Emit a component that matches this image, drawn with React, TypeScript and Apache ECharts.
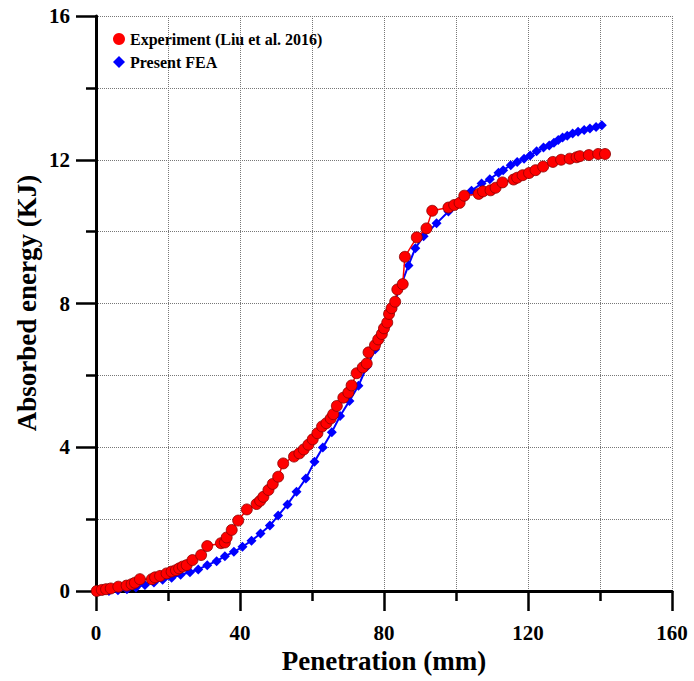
import React, { useEffect, useRef } from "react";
import * as echarts from "echarts";

const expX = [0.2, 1.6, 2.8, 4.1, 6.2, 8.5, 9.9, 10.8, 12.2, 15.5, 16.4, 17.8, 19.6, 21, 22.2, 23.1, 24.1, 25.2, 26.8, 29.2, 30.9, 34.7, 35.8, 36.3, 37.7, 39.5, 41.9, 44.6, 45.6, 46.5, 47.9, 49.1, 50.6, 52, 55, 56.5, 57.7, 59, 60.2, 61.5, 62.8, 64, 65.2, 65.9, 66.9, 68.7, 70.1, 71, 72.4, 74.1, 75.2, 75.7, 77.5, 78.4, 79.4, 80, 80.9, 81.4, 82.1, 83.1, 83.7, 85.2, 85.8, 89.1, 91.8, 93.4, 97.9, 99.5, 101, 102.3, 106.3, 107.5, 109.6, 111, 112.9, 116, 117, 118.5, 120.3, 122.1, 124.2, 126.9, 129.2, 131.6, 133.5, 134.4, 136.9, 139.5, 141.4];
const expY = [0, 0.03, 0.05, 0.07, 0.12, 0.15, 0.19, 0.23, 0.33, 0.33, 0.38, 0.42, 0.49, 0.54, 0.58, 0.63, 0.68, 0.72, 0.86, 1.0, 1.25, 1.33, 1.35, 1.49, 1.7, 1.96, 2.27, 2.42, 2.51, 2.62, 2.81, 2.98, 3.18, 3.55, 3.74, 3.83, 3.94, 4.07, 4.22, 4.39, 4.58, 4.67, 4.8, 4.92, 5.15, 5.38, 5.52, 5.72, 6.06, 6.22, 6.33, 6.64, 6.84, 7.0, 7.15, 7.31, 7.47, 7.71, 7.87, 8.05, 8.39, 8.54, 9.3, 9.84, 10.09, 10.58, 10.67, 10.74, 10.8, 11.0, 11.05, 11.12, 11.15, 11.22, 11.37, 11.45, 11.5, 11.57, 11.63, 11.71, 11.81, 11.94, 12.0, 12.03, 12.07, 12.1, 12.13, 12.16, 12.16];

const feaX = [1.1, 3.6, 6.1, 8.6, 11.1, 13.6, 16.1, 18.5, 21.0, 23.5, 26.1, 28.4, 30.9, 33.5, 35.8, 38.3, 40.7, 43.2, 45.7, 48.3, 50.6, 53.2, 55.7, 58.3, 60.7, 63.0, 65.5, 67.8, 70.4, 72.9, 75.2, 77.5, 79.8, 82.1, 84.5, 86.8, 88.7, 91.0, 94.6, 97.9, 101.6, 104.3, 107.1, 109.4, 111.8, 113.1, 115.2, 117.0, 118.9, 120.6, 122.4, 124.3, 125.9, 127.2, 128.4, 129.6, 130.9, 132.4, 133.9, 135.6, 137.2, 138.9, 140.5];
const feaY = [0, 0, 0.02, 0.05, 0.1, 0.17, 0.24, 0.31, 0.37, 0.45, 0.52, 0.6, 0.72, 0.83, 0.97, 1.09, 1.23, 1.4, 1.6, 1.82, 2.1, 2.41, 2.76, 3.13, 3.6, 3.99, 4.42, 4.87, 5.29, 5.71, 6.24, 6.72, 7.25, 7.85, 8.45, 9.06, 9.54, 9.87, 10.23, 10.56, 10.88, 11.14, 11.34, 11.46, 11.64, 11.71, 11.85, 11.94, 12.03, 12.12, 12.24, 12.34, 12.4, 12.47, 12.55, 12.62, 12.67, 12.73, 12.78, 12.83, 12.87, 12.91, 12.96];

const xTicks = { min: 0, max: 160, interval: 40 };
const yTicks = { min: 0, max: 16, interval: 4 };

const seriesNames = ["Experiment (Liu et al. 2016)", "Present FEA"];
const xTitle = "Penetration (mm)";
const yTitle = "Absorbed energy (KJ)";

const FONT = "'Liberation Serif', 'Times New Roman', serif";

export default function App() {
  const ref = useRef<HTMLDivElement>(null);
  useEffect(() => {
    if (!ref.current) return;
    const chart = echarts.init(ref.current, undefined, { renderer: "svg" });
    const axisCommon = {
      type: "value" as const,
      axisLine: { show: true, onZero: false, lineStyle: { color: "#000", width: 3 } },
      axisTick: { show: true, inside: false, length: 20, lineStyle: { color: "#000", width: 2.5 } },
      minorTick: { show: true, splitNumber: 2, length: 10, lineStyle: { color: "#000", width: 2.5 } },
      splitLine: { show: true, lineStyle: { color: "#777", type: "dotted", width: 1 } },
      minorSplitLine: { show: true, lineStyle: { color: "#777", type: "dotted", width: 1 } },
      axisLabel: { color: "#000", fontFamily: FONT, fontWeight: "bold", fontSize: 21 },
    };
    chart.setOption({
      animation: false,
      backgroundColor: "#fff",
      grid: { left: 96, right: 22, top: 16, bottom: 90, containLabel: false },
      legend: {
        orient: "vertical",
        left: 108,
        top: 25,
        itemWidth: 12,
        itemHeight: 12,
        itemGap: 5,
        data: [
          { name: seriesNames[0], icon: "circle", itemStyle: { color: "#ff0000", borderWidth: 0 } },
          { name: seriesNames[1], icon: "diamond", itemStyle: { color: "#0000ff", borderWidth: 0 } },
        ],
        textStyle: { color: "#000", fontFamily: FONT, fontWeight: "bold", fontSize: 16, lineHeight: 18 },
      },
      xAxis: {
        ...axisCommon,
        min: xTicks.min,
        max: xTicks.max,
        interval: xTicks.interval,
        axisLabel: { ...axisCommon.axisLabel, margin: 31 },
      },
      yAxis: {
        ...axisCommon,
        min: yTicks.min,
        max: yTicks.max,
        interval: yTicks.interval,
        axisLabel: { ...axisCommon.axisLabel, margin: 26 },
      },
      graphic: [
        {
          type: "text",
          x: 384,
          y: 661,
          style: {
            text: xTitle,
            fill: "#000",
            font: `bold 27px ${FONT}`,
            textAlign: "center",
            textVerticalAlign: "middle",
          },
        },
        {
          type: "text",
          x: 27,
          y: 303,
          rotation: Math.PI / 2,
          style: {
            text: yTitle,
            fill: "#000",
            font: `bold 27px ${FONT}`,
            textAlign: "center",
            textVerticalAlign: "middle",
          },
        },
      ],
      series: [
        {
          name: seriesNames[1],
          type: "line",
          data: feaX.map((x, i) => [x, feaY[i]]),
          symbol: "diamond",
          symbolSize: 10,
          itemStyle: { color: "#0000ff" },
          lineStyle: { color: "#0000ff", width: 2 },
          z: 2,
        },
        {
          name: seriesNames[0],
          type: "line",
          data: expX.map((x, i) => [x, expY[i]]),
          symbol: "circle",
          symbolSize: 11,
          itemStyle: { color: "#ff0000", borderColor: "#8a0000", borderWidth: 0.8 },
          lineStyle: { color: "#ff0000", width: 1.5 },
          z: 3,
        },
      ],
    });
    return () => chart.dispose();
  }, []);
  return <div ref={ref} style={{ width: 694, height: 681, position: "absolute", left: 0, top: 0 }} />;
}
